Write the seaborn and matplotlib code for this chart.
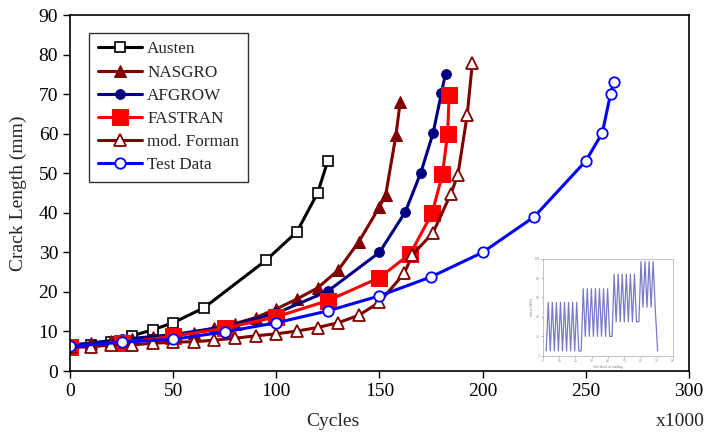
import numpy as np
import pandas as pd
import seaborn as sns
import matplotlib
matplotlib.use("Agg")
import matplotlib.pyplot as plt

# crack growth curves (cycles in thousands, crack length in mm)
austen_x = [0, 10, 20, 30, 40, 50, 65, 95, 110, 120, 125]
austen_y = [6.5, 6.6, 7.3, 8.9, 10.4, 12.2, 16, 28, 35.2, 45, 53.2]

nasgro_x = [0, 10, 20, 30, 40, 50, 60, 70, 80, 90, 100, 110, 120, 130, 140, 150, 153, 158, 160]
nasgro_y = [6.5, 7, 7.5, 8, 8.6, 9.1, 9.6, 10.9, 12, 13.5, 15.7, 18.2, 21, 25.5, 32.7, 41.5, 44.5, 59.7, 68]

afgrow_x = [0, 25, 50, 75, 100, 125, 150, 162.5, 170, 176, 180, 182]
afgrow_y = [6.5, 8.0, 9.2, 11.2, 14.6, 20.2, 30, 40.2, 50.1, 60.2, 70.2, 75.2]

fastran_x = [0, 25, 50, 75, 100, 125, 150, 165, 175.5, 180.5, 183, 183.8]
fastran_y = [6, 7, 8.8, 10.8, 13.7, 17.8, 23.6, 29.7, 39.9, 49.7, 59.9, 69.9]

forman_x = [0, 10, 20, 30, 40, 50, 60, 70, 80, 90, 100, 110, 120, 130, 140, 150, 162,
            166, 176, 184.5, 188, 192.5, 195]
forman_y = [6, 6.1, 6.6, 6.6, 7, 7.3, 7.4, 7.8, 8.3, 8.9, 9.4, 10.1, 11, 12.2, 14.1, 17.4,
            24.7, 29.4, 35, 44.7, 49.6, 64.7, 77.8]

test_x = [0, 25, 50, 75, 100, 125, 150, 175, 200, 225, 250, 258, 262, 263.5]
test_y = [6.2, 7.3, 8, 9.9, 12.2, 15.2, 19, 23.8, 30, 39, 53.1, 60.2, 70.1, 73.1]

# inset: block loading spectrum
block_min = [5, 20, 35, 50]
block_max = [55, 69, 84, 97]
block_cycles = [8, 7, 6, 4]

sns.set_style("ticks")
plt.rcParams["font.family"] = ["Liberation Serif", "DejaVu Serif"]

fig = plt.figure(figsize=(7.07, 4.42), dpi=100)
ax = fig.add_axes([0.099, 0.1606, 0.8755, 0.8054])

series = [
    ("Austen", austen_x, austen_y, dict(color="black", marker="s", ms=7, mfc="white", mec="black", mew=1.2)),
    ("NASGRO", nasgro_x, nasgro_y, dict(color="#800000", marker="^", ms=8, mfc="#800000", mec="#800000")),
    ("AFGROW", afgrow_x, afgrow_y, dict(color="#000080", marker="o", ms=7, mfc="#000080", mec="#000080")),
    ("FASTRAN", fastran_x, fastran_y, dict(color="#ff0000", marker="s", ms=12, mfc="#ff0000", mec="#ff0000")),
    ("mod. Forman", forman_x, forman_y, dict(color="#800000", marker="^", ms=8, mfc="white", mec="#800000", mew=1.3)),
    ("Test Data", test_x, test_y, dict(color="#0000ff", marker="o", ms=7.5, mfc="white", mec="#0000ff", mew=1.3)),
]

for name, xs, ys, style in series:
    df = pd.DataFrame({"cycles": xs, "crack": ys})
    sns.lineplot(data=df, x="cycles", y="crack", sort=False, lw=2.2, label=name, ax=ax, **style)

ax.set_xlim(0, 300)
ax.set_ylim(0, 90)
ax.set_xticks(range(0, 301, 50))
ax.set_yticks(range(0, 91, 10))
ax.tick_params(labelsize=14, length=5, width=1, direction="out", colors="black")
for s in ax.spines.values():
    s.set_linewidth(1.2)
    s.set_color("black")
ax.set_xlabel("")
ax.set_ylabel("Crack Length (mm)", fontsize=14, labelpad=8)
fig.text(0.471, 0.027, "Cycles", fontsize=14, ha="center", va="bottom")
fig.text(0.962, 0.027, "x1000", fontsize=14, ha="center", va="bottom")

leg = ax.legend(loc="upper left", bbox_to_anchor=(0.031, 0.95), fontsize=12.3, frameon=True,
                fancybox=False, edgecolor="black", handlelength=2.6, handletextpad=0.3,
                borderpad=0.5, labelspacing=0.42, borderaxespad=0)
leg.get_frame().set_linewidth(1.0)

# inset picture of the loading spectrum
ins = fig.add_axes([0.768, 0.195, 0.184, 0.22])
lx, ly = [2], [block_min[0]]
t = 2
for lo, hi, n in zip(block_min, block_max, block_cycles):
    for _ in range(n):
        lx += [t + 1.25, t + 2.5]
        ly += [hi, lo]
        t += 2.5
    t += 1.5
    lx.append(t)
    ly.append(lo)
lx[-1] = lx[-2] + 1.5
ly[-1] = 5
sns.lineplot(x=lx, y=ly, sort=False, ax=ins, color="#7a7ac8", lw=0.9)
ins.set_xlim(0, 80)
ins.set_ylim(0, 100)
ins.set_xticks(np.arange(0, 81, 10))
ins.set_yticks(np.arange(0, 101, 20))
ins.tick_params(labelsize=2.5, length=1.5, width=0.4, colors="#888888", pad=1)
for s in ins.spines.values():
    s.set_linewidth(0.5)
    s.set_color("#aaaaaa")
ins.set_xlabel("One block of loading", fontsize=2.5, labelpad=1, color="#777777")
ins.set_ylabel("Stress (MPa)", fontsize=2.5, labelpad=1, color="#777777")

fig.savefig("out.png", dpi=100)
